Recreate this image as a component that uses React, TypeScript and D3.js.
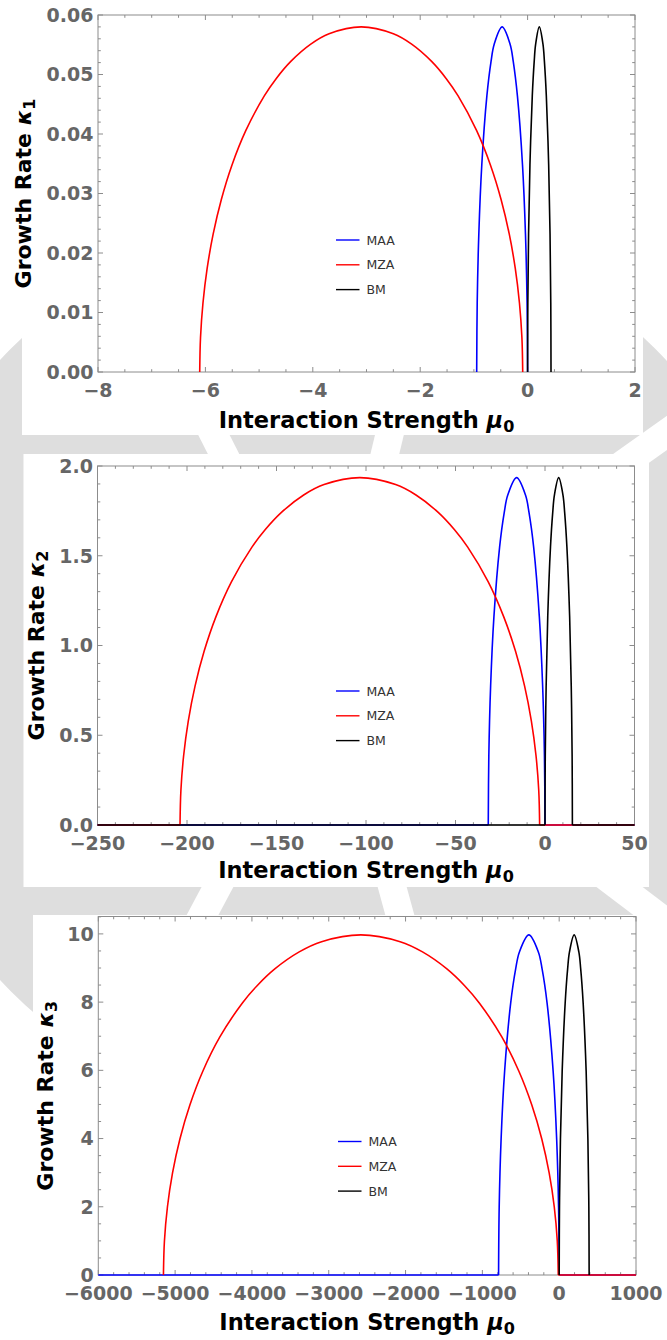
import React from 'react';
import * as d3 from 'd3';

type Pt = [number, number];

const SERIES_NAMES = ['MAA', 'MZA', 'BM'];
const SERIES_COLORS = ['#0000ff', '#ff0000', '#000000'];

// ---------- Panel 1: kappa_1 ----------
const p1XTicks = [-8, -6, -4, -2, 0, 2];
const p1XTickLabels = ['\u22128', '\u22126', '\u22124', '\u22122', '0', '2'];
const p1YTicks = [0, 0.01, 0.02, 0.03, 0.04, 0.05, 0.06];
const p1YTickLabels = ['0.00', '0.01', '0.02', '0.03', '0.04', '0.05', '0.06'];

const p1MAA: Pt[] = [
  [-0.948, 0], [-0.9384, 0.0116], [-0.9084, 0.0232], [-0.8532, 0.0348], [-0.7584, 0.0464],
  [-0.6806, 0.0522], [-0.622, 0.0551], [-0.474, 0.058], [-0.326, 0.0551], [-0.2674, 0.0522],
  [-0.1896, 0.0464], [-0.0948, 0.0348], [-0.0396, 0.0232], [-0.0096, 0.0116], [0, 0],
];
const p1MZA: Pt[] = [
  [-6.106, 0], [-6.0909, 0.0058], [-6.0453, 0.0116], [-5.9675, 0.0174], [-5.8549, 0.0232],
  [-5.7031, 0.029], [-5.5045, 0.0348], [-5.2463, 0.0406], [-4.903, 0.0464], [-4.6828, 0.0493],
  [-4.4094, 0.0522], [-4.0376, 0.0551], [-3.697, 0.05684], [-3.0985, 0.058], [-2.5, 0.05684],
  [-2.1594, 0.0551], [-1.7876, 0.0522], [-1.5142, 0.0493], [-1.294, 0.0464], [-0.9507, 0.0406],
  [-0.6925, 0.0348], [-0.4939, 0.029], [-0.3421, 0.0232], [-0.2295, 0.0174], [-0.1517, 0.0116],
  [-0.1061, 0.0058], [-0.091, 0],
];
const p1BM: Pt[] = [
  [0, 0], [0.0044, 0.0116], [0.0182, 0.0232], [0.0436, 0.0348], [0.0872, 0.0464], [0.123, 0.0522],
  [0.1499, 0.0551], [0.218, 0.058], [0.2861, 0.0551], [0.313, 0.0522], [0.3488, 0.0464],
  [0.3924, 0.0348], [0.4178, 0.0232], [0.4316, 0.0116], [0.436, 0],
];

// ---------- Panel 2: kappa_2 ----------
const p2XTicks = [-250, -200, -150, -100, -50, 0, 50];
const p2XTickLabels = ['\u2212250', '\u2212200', '\u2212150', '\u2212100', '\u221250', '0', '50'];
const p2YTicks = [0, 0.5, 1, 1.5, 2];
const p2YTickLabels = ['0.0', '0.5', '1.0', '1.5', '2.0'];

const p2MAA: Pt[] = [
  [-250, 0], [-31.7, 0], [-31.38, 0.387], [-30.38, 0.774], [-28.53, 1.161], [-25.36, 1.548],
  [-22.76, 1.7415], [-20.8, 1.8383], [-15.85, 1.935], [-10.9, 1.8383], [-8.94, 1.7415],
  [-6.34, 1.548], [-3.17, 1.161], [-1.32, 0.774], [-0.32, 0.387], [0, 0], [50, 0],
];
const p2MZA: Pt[] = [
  [-250, 0], [-203.9, 0], [-203.4, 0.1935], [-201.87, 0.387], [-199.27, 0.5805], [-195.51, 0.774],
  [-190.44, 0.9675], [-183.81, 1.161], [-175.19, 1.3545], [-163.72, 1.548], [-156.36, 1.6448],
  [-147.24, 1.7415], [-134.82, 1.8383], [-123.44, 1.8963], [-103.45, 1.935], [-83.46, 1.8963],
  [-72.08, 1.8383], [-59.66, 1.7415], [-50.54, 1.6448], [-43.18, 1.548], [-31.71, 1.3545],
  [-23.09, 1.161], [-16.46, 0.9675], [-11.39, 0.774], [-7.63, 0.5805], [-5.03, 0.387],
  [-3.5, 0.1935], [-3.0, 0], [50, 0],
];
const p2BM: Pt[] = [
  [-250, 0], [0, 0], [0.15, 0.387], [0.64, 0.774], [1.53, 1.161], [3.06, 1.548], [4.32, 1.7415],
  [5.26, 1.8383], [7.65, 1.935], [10.04, 1.8383], [10.98, 1.7415], [12.24, 1.548], [13.77, 1.161],
  [14.66, 0.774], [15.15, 0.387], [15.3, 0], [50, 0],
];

// ---------- Panel 3: kappa_3 ----------
const p3XTicks = [-6000, -5000, -4000, -3000, -2000, -1000, 0, 1000];
const p3XTickLabels = ['\u22126000', '\u22125000', '\u22124000', '\u22123000', '\u22122000', '\u22121000', '0', '1000'];
const p3YTicks = [0, 2, 4, 6, 8, 10];
const p3YTickLabels = ['0', '2', '4', '6', '8', '10'];

const p3MAA: Pt[] = [
  [-6000, 0], [-789, 0], [-781, 1.994], [-756.1, 3.988], [-710.1, 5.982], [-631.2, 7.976],
  [-566.5, 8.973], [-517.7, 9.4715], [-394.5, 9.97], [-271.3, 9.4715], [-222.5, 8.973],
  [-157.8, 7.976], [-78.9, 5.982], [-32.9, 3.988], [-8, 1.994], [0, 0], [1000, 0],
];
const p3MZA: Pt[] = [
  [-5152, 0], [-5139.1, 0.997], [-5100.1, 1.994], [-5033.6, 2.991], [-4937.5, 3.988],
  [-4807.7, 4.985], [-4638, 5.982], [-4417.3, 6.979], [-4124, 7.976], [-3935.8, 8.4745],
  [-3702.2, 8.973], [-3384.5, 9.4715], [-3093.4, 9.7706], [-2582, 9.97], [-2070.6, 9.7706],
  [-1779.5, 9.4715], [-1461.8, 8.973], [-1228.2, 8.4745], [-1040, 7.976], [-746.7, 6.979],
  [-526, 5.982], [-356.3, 4.985], [-226.5, 3.988], [-130.4, 2.991], [-63.9, 1.994],
  [-24.9, 0.997], [-12, 0], [1000, 0],
];
const p3BM: Pt[] = [
  [0, 0], [3.9, 1.994], [16.3, 3.988], [39, 5.982], [78, 7.976], [110, 8.973], [134.1, 9.4715],
  [195, 9.97], [255.9, 9.4715], [280, 8.973], [312, 7.976], [351, 5.982], [373.7, 3.988],
  [386.1, 1.994], [390, 0],
];

// ---------- layout ----------
interface PanelCfg {
  id: string;
  bg: { x: number; y: number; w: number; h: number };
  frame: { x0: number; x1: number; y0: number; y1: number };
  xDomain: [number, number];
  yDomain: [number, number];
  xTicks: number[];
  xTickLabels: string[];
  xMinor: number;
  yTicks: number[];
  yTickLabels: string[];
  yMinor: number;
  sub: string;
  yTitleX: number;
  xTitleY: number;
  legendX: number;
  series: Pt[][];
}

const panels: PanelCfg[] = [
  {
    id: 'k1',
    bg: { x: 22, y: 0, w: 621, h: 435 },
    frame: { x0: 98, x1: 635, y0: 15, y1: 372 },
    xDomain: [-8, 2], yDomain: [0, 0.06],
    xTicks: p1XTicks, xTickLabels: p1XTickLabels, xMinor: 0.5,
    yTicks: p1YTicks, yTickLabels: p1YTickLabels, yMinor: 0.002,
    sub: '1', yTitleX: 31, xTitleY: 428, legendX: 336,
    series: [p1MAA, p1MZA, p1BM],
  },
  {
    id: 'k2',
    bg: { x: 23.5, y: 454, w: 625.5, h: 433 },
    frame: { x0: 97.5, x1: 634.5, y0: 466, y1: 825 },
    xDomain: [-250, 50], yDomain: [0, 2],
    xTicks: p2XTicks, xTickLabels: p2XTickLabels, xMinor: 10,
    yTicks: p2YTicks, yTickLabels: p2YTickLabels, yMinor: 0.1,
    sub: '2', yTitleX: 44, xTitleY: 878, legendX: 336,
    series: [p2MAA, p2MZA, p2BM],
  },
  {
    id: 'k3',
    bg: { x: 33, y: 915, w: 634, h: 425 },
    frame: { x0: 98.3, x1: 636, y0: 916.5, y1: 1275 },
    xDomain: [-6000, 1000], yDomain: [0, 10.51],
    xTicks: p3XTicks, xTickLabels: p3XTickLabels, xMinor: 200,
    yTicks: p3YTicks, yTickLabels: p3YTickLabels, yMinor: 0.5,
    sub: '3', yTitleX: 53, xTitleY: 1330, legendX: 338,
    series: [p3MAA, p3MZA, p3BM],
  },
];

const FRAME_GRAY = '#8c8c8c';
const LABEL_GRAY = '#666666';
const FONT = "'DejaVu Sans', sans-serif";

function minorTicks(domain: [number, number], step: number, majors: number[]): number[] {
  const out: number[] = [];
  const n = Math.round((domain[1] - domain[0]) / step);
  for (let i = 0; i <= n; i++) {
    const v = domain[0] + i * step;
    if (!majors.some((m) => Math.abs(m - v) < step * 1e-3)) out.push(v);
  }
  return out;
}

// Split a series into its flat zero runs (drawn straight) and the arch between them (drawn smooth).
function splitSeries(s: Pt[]): { lead: Pt[]; arch: Pt[]; tail: Pt[] } {
  let first = s.findIndex((d) => d[1] !== 0);
  let last = s.length - 1;
  while (last >= 0 && s[last][1] === 0) last--;
  if (first < 0) return { lead: s, arch: [], tail: [] };
  const a = Math.max(0, first - 1);
  const b = Math.min(s.length - 1, last + 1);
  return { lead: s.slice(0, a + 1), arch: s.slice(a, b + 1), tail: s.slice(b) };
}

function Panel({ cfg }: { cfg: PanelCfg }) {
  const { frame } = cfg;
  const x = d3.scaleLinear().domain(cfg.xDomain).range([frame.x0, frame.x1]);
  const y = d3.scaleLinear().domain(cfg.yDomain).range([frame.y1, frame.y0]);
  const smooth = d3
    .line<Pt>()
    .x((d) => x(d[0]))
    .y((d) => y(d[1]))
    .curve(d3.curveCatmullRom.alpha(0.5));
  const straight = d3
    .line<Pt>()
    .x((d) => x(d[0]))
    .y((d) => y(d[1]));

  const majLen = 5;
  const minLen = 2.8;
  const xMin = minorTicks(cfg.xDomain, cfg.xMinor, cfg.xTicks);
  const yMin = minorTicks(cfg.yDomain, cfg.yMinor, cfg.yTicks);
  const cy = (frame.y0 + frame.y1) / 2;
  const cx = (frame.x0 + frame.x1) / 2;
  const legendTop = frame.y0 + 225;
  const clipId = 'clip-' + cfg.id;

  return (
    <g>
      <defs>
        <clipPath id={clipId}>
          <rect x={frame.x0 - 1} y={frame.y0 - 1} width={frame.x1 - frame.x0 + 2} height={frame.y1 - frame.y0 + 1.9} />
        </clipPath>
      </defs>
      <rect x={cfg.bg.x} y={cfg.bg.y} width={cfg.bg.w} height={cfg.bg.h} fill="#ffffff" />
      {/* frame ticks on all four sides, pointing inward */}
      <g stroke={FRAME_GRAY} strokeWidth={1}>
        {cfg.xTicks.map((t) => (
          <g key={'xm' + t}>
            <line x1={x(t)} x2={x(t)} y1={frame.y1} y2={frame.y1 - majLen} />
            <line x1={x(t)} x2={x(t)} y1={frame.y0} y2={frame.y0 + majLen} />
          </g>
        ))}
        {xMin.map((t) => (
          <g key={'xn' + t}>
            <line x1={x(t)} x2={x(t)} y1={frame.y1} y2={frame.y1 - minLen} />
            <line x1={x(t)} x2={x(t)} y1={frame.y0} y2={frame.y0 + minLen} />
          </g>
        ))}
        {cfg.yTicks.map((t) => (
          <g key={'ym' + t}>
            <line x1={frame.x0} x2={frame.x0 + majLen} y1={y(t)} y2={y(t)} />
            <line x1={frame.x1} x2={frame.x1 - majLen} y1={y(t)} y2={y(t)} />
          </g>
        ))}
        {yMin.map((t) => (
          <g key={'yn' + t}>
            <line x1={frame.x0} x2={frame.x0 + minLen} y1={y(t)} y2={y(t)} />
            <line x1={frame.x1} x2={frame.x1 - minLen} y1={y(t)} y2={y(t)} />
          </g>
        ))}
      </g>
      <rect
        x={frame.x0}
        y={frame.y0}
        width={frame.x1 - frame.x0}
        height={frame.y1 - frame.y0}
        fill="none"
        stroke={FRAME_GRAY}
        strokeWidth={1}
      />
      {/* curves */}
      <g clipPath={`url(#${clipId})`} fill="none" strokeWidth={1.6}>
        {cfg.series.map((s, i) => {
          const parts = splitSeries(s);
          return (
            <g key={SERIES_NAMES[i]} stroke={SERIES_COLORS[i]}>
              {parts.lead.length > 1 && <path d={straight(parts.lead) || ''} />}
              {parts.arch.length > 1 && <path d={smooth(parts.arch) || ''} />}
              {parts.tail.length > 1 && <path d={straight(parts.tail) || ''} />}
            </g>
          );
        })}
      </g>
      {/* tick labels */}
      <g fontFamily={FONT} fontWeight="bold" fontSize={19} fill={LABEL_GRAY}>
        {cfg.xTicks.map((t, i) => (
          <text key={'xl' + t} x={x(t)} y={frame.y1 + 24.5} textAnchor="middle">
            {cfg.xTickLabels[i]}
          </text>
        ))}
        {cfg.yTicks.map((t, i) => (
          <text key={'yl' + t} x={frame.x0 - 4.5} y={y(t) + 6.8} textAnchor="end">
            {cfg.yTickLabels[i]}
          </text>
        ))}
      </g>
      {/* axis titles */}
      <text x={cx} y={cfg.xTitleY} textAnchor="middle" fontFamily={FONT} fontWeight="bold" fontSize={22.5} fill="#000">
        Interaction Strength <tspan fontStyle="italic">{'\u03bc'}</tspan>
        <tspan fontSize={16} dy={4}>0</tspan>
      </text>
      <text
        transform={`translate(${cfg.yTitleX},${cy}) rotate(-90)`}
        textAnchor="middle"
        fontFamily={FONT}
        fontWeight="bold"
        fontSize={22}
        fill="#000"
      >
        Growth Rate <tspan fontStyle="italic">{'\u03ba'}</tspan>
        <tspan fontSize={16} dy={4}>{cfg.sub}</tspan>
      </text>
      {/* legend */}
      <g fontFamily={FONT} fontSize={12.5} fill="#333">
        {SERIES_NAMES.map((name, i) => {
          const ly = legendTop + i * 24.8;
          return (
            <g key={'lg' + name}>
              <line x1={cfg.legendX} x2={cfg.legendX + 23.5} y1={ly} y2={ly} stroke={SERIES_COLORS[i]} strokeWidth={1.4} />
              <text x={cfg.legendX + 30.5} y={ly + 4.5}>{name}</text>
            </g>
          );
        })}
      </g>
    </g>
  );
}

// faint emblem ring behind the panels, with radial gaps
const EMBLEM_CENTER: Pt = [333, 670];
const EMBLEM_GAPS: Pt[] = [
  [219, 445], [387, 445], [650, 445],
  [210, 901], [396, 901], [638, 901],
];

function Emblem() {
  const arc = d3.arc()({ innerRadius: 212, outerRadius: 455, startAngle: 0, endAngle: Math.PI * 2 } as any) || '';
  const [ex, ey] = EMBLEM_CENTER;
  return (
    <g>
      <path d={arc} transform={`translate(${ex},${ey})`} fill="#dedede" />
      {EMBLEM_GAPS.map(([gx, gy], i) => (
        <line
          key={'gap' + i}
          x1={ex}
          y1={ey}
          x2={ex + (gx - ex) * 3}
          y2={ey + (gy - ey) * 3}
          stroke="#ffffff"
          strokeWidth={28}
        />
      ))}
    </g>
  );
}

export default function App() {
  return (
    <svg
      width={667}
      height={1340}
      viewBox="0 0 667 1340"
      style={{ position: 'absolute', left: 0, top: 0, background: '#ffffff' }}
    >
      <Emblem />
      {panels.map((p) => (
        <Panel key={p.id} cfg={p} />
      ))}
    </svg>
  );
}
